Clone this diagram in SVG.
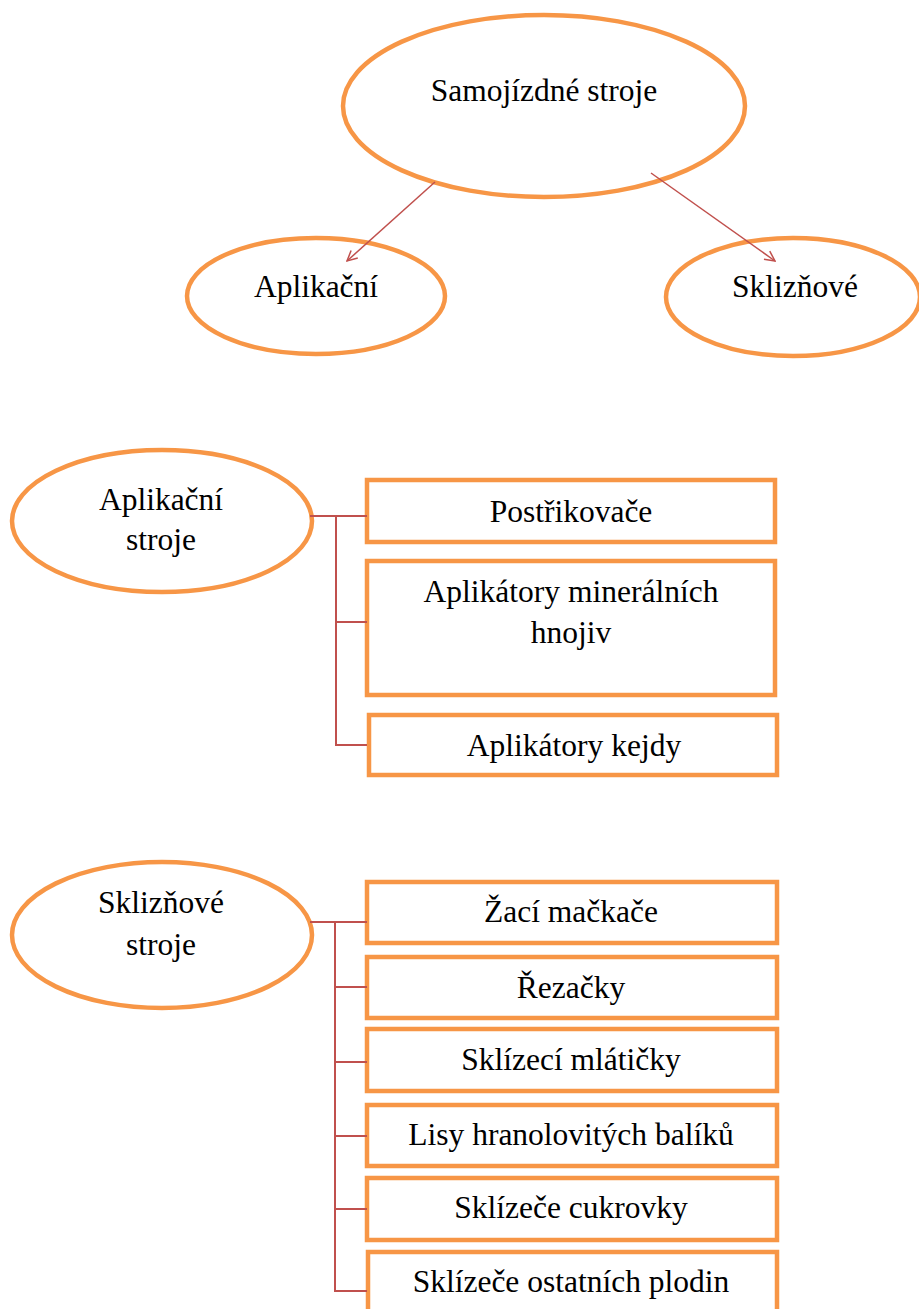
<svg xmlns="http://www.w3.org/2000/svg" width="919" height="1309" viewBox="0 0 919 1309">
<style>
.node{fill:#fff;stroke:#F79646;stroke-width:4.5}
.t{font-family:"Liberation Serif","Times New Roman",serif;font-size:31.5px;fill:#000;text-anchor:middle}
.c{fill:none;stroke:#C0504D;stroke-width:2}
.a{fill:none;stroke:#C0504D;stroke-width:1.5}
</style>
<defs>
<marker id="arr" viewBox="0 0 12 12" refX="11" refY="6" markerWidth="12" markerHeight="12" markerUnits="userSpaceOnUse" orient="auto">
<path d="M1,1 L11,6 L1,11" fill="none" stroke="#C0504D" stroke-width="1.5"/>
</marker>
</defs>
<rect width="919" height="1309" fill="#fff"/>
<g id="root"><ellipse class="node" cx="544" cy="106" rx="201" ry="91"/><text class="t" x="544" y="101">Samojízdné stroje</text></g>
<g id="aplikacni"><ellipse class="node" cx="316" cy="296" rx="129" ry="58"/><text class="t" x="316" y="297">Aplikační</text></g>
<g id="sklizove"><ellipse class="node" cx="793" cy="297" rx="127" ry="59"/><text class="t" x="795" y="297">Sklizňové</text></g>
<g id="aplikacni-stroje"><ellipse class="node" cx="162" cy="521" rx="150" ry="71"/><text class="t" x="161" y="510">Aplikační</text><text class="t" x="161" y="550">stroje</text></g>
<g id="postrikovace"><rect class="node" x="367" y="480" width="408" height="62"/><text class="t" x="571" y="522">Postřikovače</text></g>
<g id="aplikatory-min"><rect class="node" x="367" y="561" width="408" height="134"/><text class="t" x="571" y="602">Aplikátory minerálních</text><text class="t" x="571" y="643">hnojiv</text></g>
<g id="aplikatory-kejdy"><rect class="node" x="369" y="715" width="408" height="60"/><text class="t" x="574" y="756">Aplikátory kejdy</text></g>
<g id="sklizove-stroje"><ellipse class="node" cx="162" cy="935" rx="150" ry="73"/><text class="t" x="161" y="913">Sklizňové</text><text class="t" x="161" y="955">stroje</text></g>
<g id="zaci"><rect class="node" x="367" y="882" width="410" height="61"/><text class="t" x="571" y="922">Žací mačkače</text></g>
<g id="rezacky"><rect class="node" x="367" y="957" width="410" height="61"/><text class="t" x="571" y="998">Řezačky</text></g>
<g id="mlaticky"><rect class="node" x="367" y="1029" width="410" height="62"/><text class="t" x="571" y="1070">Sklízecí mlátičky</text></g>
<g id="lisy"><rect class="node" x="367" y="1105" width="410" height="61"/><text class="t" x="571" y="1145">Lisy hranolovitých balíků</text></g>
<g id="cukrovky"><rect class="node" x="367" y="1178" width="410" height="62"/><text class="t" x="571" y="1218">Sklízeče cukrovky</text></g>
<g id="ostatni"><rect class="node" x="368" y="1252" width="409" height="80"/><text class="t" x="571" y="1292">Sklízeče ostatních plodin</text></g>
<g id="connectors">
<line class="a" x1="435" y1="182" x2="347" y2="261" marker-end="url(#arr)"/>
<line class="a" x1="651" y1="173" x2="775" y2="261" marker-end="url(#arr)"/>
<path class="c" d="M310,516 H367 M336,516 V745 H367 M336,622 H367"/>
<path class="c" d="M310,922 H367 M335,922 V1291 H367 M335,987 H367 M335,1062 H367 M335,1136 H367 M335,1209 H367"/>
</g>
</svg>
